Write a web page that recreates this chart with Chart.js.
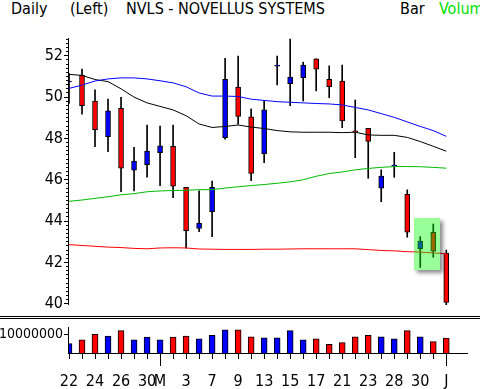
<!DOCTYPE html>
<html>
<head>
<meta charset="utf-8">
<script src="https://cdn.jsdelivr.net/npm/chart.js@4.4.1/dist/chart.umd.min.js"></script>
<style>
  body { margin: 0; width: 480px; height: 389px; overflow: hidden; background: #fff; position: relative;
         font-family: 'DejaVu Sans Condensed', 'DejaVu Sans', sans-serif; }
  .hd { position: absolute; top: 1px; font-size: 16px; line-height: 16px; white-space: nowrap; color: #000; }
  .sep { position: absolute; left: 0; width: 480px; height: 1px; background: #000; }
  .mk { position: absolute; background: #000; }
  canvas { position: absolute; left: 0; }
</style>
</head>
<body>
<div class="hd" style="left:11px">Daily</div>
<div class="hd" style="left:70px">(Left)</div>
<div class="hd" style="left:126px">NVLS - NOVELLUS SYSTEMS</div>
<div class="hd" style="left:400px">Bar</div>
<div class="hd" style="left:439px;color:#00e000">Volum</div>

<canvas id="price" width="480" height="316" style="top:0"></canvas>
<div class="sep" style="top:316px"></div>
<div class="sep" style="top:318px"></div>
<canvas id="vol" width="480" height="71" style="top:318px"></canvas>

<script>
// trading days (only some get a label under the axis)
const tickLabels = ['22','','24','','26','','30','M','','3','','7','','9','','13','','15','','17','','21','','23','','28','','30','','J'];
const monthStarts = [7, 29];
const priceTicks = [40, 42, 44, 46, 48, 50, 52];
const volTicks = [10000000];

const open  = [50.73, 51.07, 49.81, 48.09, 49.46, 46.47, 46.73, 47.31, 47.62, 45.64, 43.64, 44.46, 48.04, 50.48, 49.05,
               47.26, 51.50, 50.65, 50.94, 51.85, 50.86, 50.78, 48.35, 48.49, 45.59, 46.66, 45.30, 42.67, 43.46, 42.45];
const high  = [51.15, 51.36, 50.35, 49.90, 49.99, 47.57, 48.65, 48.60, 48.65, 45.64, 45.47, 45.94, 51.88, 51.99, 49.43,
               49.83, 51.99, 52.81, 51.69, 51.85, 51.51, 51.55, 49.86, 48.49, 46.48, 47.33, 45.51, 43.25, 43.86, 42.60];
const low   = [49.70, 49.18, 47.60, 47.36, 45.43, 45.46, 46.12, 45.72, 45.13, 42.69, 43.49, 43.25, 47.96, 48.69, 45.96,
               46.83, 50.59, 49.59, 49.81, 50.30, 49.97, 48.52, 47.07, 46.07, 44.94, 46.12, 43.22, 41.76, 42.25, 39.86];
const close = [50.76, 49.59, 48.42, 49.33, 46.56, 46.91, 47.39, 47.64, 45.69, 43.54, 43.90, 45.64, 50.86, 49.07, 46.31,
               49.38, 51.52, 50.97, 51.55, 51.35, 50.51, 48.85, 48.32, 47.86, 46.18, 46.68, 43.46, 43.03, 42.55, 40.07];

const volume = [5200000, 7200000, 10200000, 9200000, 12200000, 7200000, 8700000, 7200000, 8700000, 9300000,
                7700000, 9700000, 12700000, 12700000, 8800000, 8300000, 8300000, 12200000, 7200000, 7700000,
                4700000, 5700000, 8800000, 9700000, 8800000, 7700000, 12200000, 8800000, 6200000, 8200000];

// moving averages
const maBlue  = [50.42, 50.58, 50.78, 50.88, 50.93, 50.93, 50.88, 50.79, 50.69, 50.50, 50.20, 50.05, 50.05, 50.03, 49.90,
                 49.84, 49.78, 49.75, 49.72, 49.69, 49.67, 49.62, 49.50, 49.38, 49.20, 49.02, 48.80, 48.58, 48.38, 48.10];
const maBlack = [51.10, 51.05, 50.85, 50.75, 50.40, 50.00, 49.72, 49.55, 49.38, 49.10, 48.70, 48.53, 48.58, 48.65, 48.55,
                 48.48, 48.38, 48.32, 48.30, 48.30, 48.30, 48.28, 48.30, 48.17, 48.15, 48.15, 48.05, 47.85, 47.62, 47.38];
const maGreen = [44.96, 45.02, 45.10, 45.18, 45.27, 45.33, 45.42, 45.46, 45.48, 45.49, 45.52, 45.52, 45.60, 45.66, 45.72,
                 45.77, 45.83, 45.90, 46.00, 46.17, 46.30, 46.38, 46.48, 46.55, 46.60, 46.64, 46.64, 46.63, 46.60, 46.56];
const maRed   = [42.86, 42.82, 42.78, 42.74, 42.72, 42.68, 42.66, 42.70, 42.71, 42.70, 42.65, 42.64, 42.63, 42.63, 42.63,
                 42.64, 42.64, 42.65, 42.66, 42.66, 42.66, 42.66, 42.66, 42.62, 42.58, 42.56, 42.52, 42.50, 42.46, 42.42];

// marked area (index range, price range)
const highlight = { from: 26.5, to: 28.5, low: 41.65, high: 44.15 };

const UP = '#0000ff', DOWN = '#ff0000';
const FAMILY = "'DejaVu Sans Condensed', 'DejaVu Sans', sans-serif";
const FONT = { family: FAMILY, size: 16 };
const X_MAX = 30.67;
const VOL_TOP = 318;
const idx = close.map((c, i) => i);
const dirColor = idx.map(i => close[i] >= open[i] ? UP : DOWN);
const hiddenTicks = { drawOnChartArea: false, tickLength: 5, tickColor: 'rgba(0,0,0,0)' };

function maLine(values, color) {
    return {
        type: 'line',
        data: values.map((v, i) => ({ x: i, y: v })),
        borderColor: color,
        borderWidth: 1,
        pointRadius: 0,
        tension: 0,
        order: 0
    };
}

const highlightBox = {
    id: 'highlightBox',
    afterDatasetsDraw(chart) {
        const x = chart.scales.x, y = chart.scales.y, ctx = chart.ctx;
        const x0 = Math.round(x.getPixelForValue(highlight.from));
        const x1 = Math.round(x.getPixelForValue(highlight.to));
        const y0 = Math.round(y.getPixelForValue(highlight.high));
        const y1 = Math.round(y.getPixelForValue(highlight.low));
        ctx.save();
        // shadow only outside the box
        ctx.beginPath();
        ctx.rect(0, 0, chart.width, chart.height);
        ctx.rect(x0, y0, x1 - x0, y1 - y0);
        ctx.clip('evenodd');
        ctx.shadowColor = 'rgba(0,0,0,0.45)';
        ctx.shadowBlur = 4;
        ctx.shadowOffsetX = 3;
        ctx.shadowOffsetY = 3;
        ctx.fillStyle = '#000';
        ctx.fillRect(x0, y0, x1 - x0, y1 - y0);
        ctx.restore();
        ctx.save();
        ctx.fillStyle = 'rgba(0,255,0,0.4)';
        ctx.fillRect(x0, y0, x1 - x0, y1 - y0);
        ctx.restore();
    }
};

const priceChart = new Chart(document.getElementById('price'), {
    type: 'bar',
    data: {
        datasets: [
            maLine(maBlue, '#0000ff'),
            maLine(maBlack, '#000000'),
            maLine(maGreen, '#00bb00'),
            maLine(maRed, '#ff0000'),
            {
                type: 'bar',
                data: idx.map(i => ({ x: i, y: [open[i], close[i]] })),
                backgroundColor: dirColor,
                borderColor: '#000',
                borderWidth: 1,
                borderSkipped: false,
                barThickness: 5,
                minBarLength: 1,
                grouped: false,
                order: 1
            },
            {
                type: 'bar',
                data: idx.map(i => ({ x: i, y: [low[i], high[i]] })),
                backgroundColor: '#000',
                borderWidth: 0,
                barThickness: 1,
                grouped: false,
                order: 2
            }
        ]
    },
    options: {
        responsive: false,
        animation: false,
        events: [],
        layout: { padding: { top: 38, right: 12, bottom: 11, left: 0 } },
        plugins: { legend: { display: false }, tooltip: { enabled: false } },
        scales: {
            x: { type: 'linear', min: 0, max: X_MAX, offset: false, display: false },
            y: {
                min: 39.94,
                max: 52.86,
                afterBuildTicks: s => { s.ticks = priceTicks.map(v => ({ value: v })); },
                ticks: { color: '#000', font: FONT, padding: 1 },
                grid: hiddenTicks,
                border: { display: false },
                afterFit: s => { s.width = 69; }
            }
        }
    },
    plugins: [highlightBox]
});

const volChart = new Chart(document.getElementById('vol'), {
    type: 'bar',
    data: {
        datasets: [{
            data: idx.map(i => ({ x: i, y: volume[i] })),
            backgroundColor: dirColor,
            borderColor: '#000',
            borderWidth: 1,
            barThickness: 6,
            grouped: false
        }]
    },
    options: {
        responsive: false,
        animation: false,
        events: [],
        layout: { padding: { top: 7, right: 12, bottom: 0, left: 0 } },
        plugins: { legend: { display: false }, tooltip: { enabled: false } },
        scales: {
            x: {
                type: 'linear', min: 0, max: X_MAX, offset: false,
                afterBuildTicks: s => { s.ticks = idx.map(i => ({ value: i })); },
                ticks: { autoSkip: false, maxRotation: 0, color: '#000', font: FONT, padding: 14,
                         callback: v => tickLabels[v] },
                grid: hiddenTicks,
                border: { display: false },
                afterFit: s => { s.height = 36; }
            },
            y: {
                min: 0, max: 14000000,
                afterBuildTicks: s => { s.ticks = volTicks.map(v => ({ value: v })); },
                ticks: { color: '#000', font: { family: FAMILY, size: 14 }, padding: 1, callback: v => String(v) },
                grid: hiddenTicks,
                border: { display: false },
                afterFit: s => { s.width = 69; }
            }
        }
    }
});

// axis lines and tick marks, placed from the charts' own scales
function mark(x, y, w, h) {
    const d = document.createElement('div');
    d.className = 'mk';
    d.style.left = x + 'px';
    d.style.top = y + 'px';
    d.style.width = w + 'px';
    d.style.height = h + 'px';
    document.body.appendChild(d);
}

const pa = priceChart.chartArea, py = priceChart.scales.y;
mark(pa.left - 1, pa.top, 1, pa.bottom - pa.top);
for (let k = 4000; k <= 5280; k += 20) {
    const v = k / 100;
    if (v < py.min || v > py.max) continue;
    const len = priceTicks.includes(v) ? 5 : 3;   // small ticks every 0.2
    mark(pa.left - len, Math.floor(py.getPixelForValue(v)), len, 1);
}

const va = volChart.chartArea, vx = volChart.scales.x, vy = volChart.scales.y;
mark(va.left - 1, VOL_TOP + va.top, 1, va.bottom - va.top + 1);
volTicks.forEach(v => mark(va.left - 5, VOL_TOP + Math.floor(vy.getPixelForValue(v)), 5, 1));
mark(va.left - 1, VOL_TOP + va.bottom, va.right - va.left + 1, 1);
idx.forEach(i => {
    const len = monthStarts.includes(i) ? 12 : 5;
    mark(Math.floor(vx.getPixelForValue(i)), VOL_TOP + va.bottom + 1, 1, len);
});
</script>
</body>
</html>
